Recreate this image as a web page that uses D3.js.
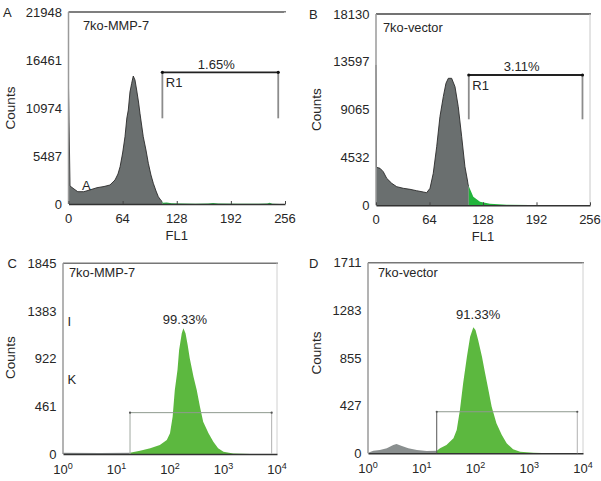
<!DOCTYPE html>
<html>
<head>
<meta charset="utf-8">
<script src="https://d3js.org/d3.v7.min.js"></script>
<style>
  body { margin: 0; background: #fff; }
  text { font-family: "Liberation Sans", Arial, sans-serif; fill: #262626; }
</style>
</head>
<body>
<div id="graph"></div>
<script>

// ---- data ----
// panel A : 7ko-MMP-7, linear FL1 channels
var aFL1   = [0, 1.8, 6.5, 11, 18, 25, 33.7, 42, 49, 55, 58.5, 61, 64, 66.8, 69, 70.7, 72.7, 74.7, 76.6, 78.6, 80.6, 82.8, 84.5, 88.4, 91.6, 94.4, 97.5, 100.3, 103.5, 106.2, 109.4, 112, 116, 122, 135, 150, 165, 171, 177, 200, 225, 235, 238, 241, 250, 256];
var aCount = [13260, 2060, 1715, 1406, 1406, 1600, 1863, 2000, 2172, 2743, 3429, 4263, 5829, 7692, 9830, 10744, 12800, 13796, 14630, 14173, 13030, 11659, 10367, 7692, 6172, 4652, 3315, 2366, 1486, 834, 400, 150, 170, 80, 50, 40, 60, 120, 50, 40, 30, 60, 150, 40, 10, 0];
var aTicksY = [0, 5487, 10974, 16461, 21948];
var aGate = [111, 248], aGateY = [15053, 9795];

// panel B : 7ko-vector
var bFL1   = [0, 0.5, 4.8, 8.7, 12.8, 18.8, 24.8, 32.7, 40.7, 48.5, 56.6, 60.6, 64.6, 68.5, 72.6, 76.5, 80.5, 83.7, 86.5, 90.5, 94.5, 98.4, 102.5, 106.4, 110.4, 116.4, 124.4, 136.3, 156.3, 184, 220, 256];
var bCount = [13300, 3601, 3506, 3184, 2559, 2085, 1763, 1611, 1516, 1384, 1260, 1194, 1611, 3033, 5553, 8397, 10292, 11562, 12036, 12036, 11240, 9344, 6501, 3658, 1924, 815, 341, 152, 57, 20, 0, 0];
var bTicksY = [0, 4532, 9065, 13597, 18130];
var bGate = [111, 247], bGateY = [12349, 8150];

// panel C : 7ko-MMP-7, log FL1
var cFL1   = [1.0, 4.9, 17.8, 27.5, 42.7, 64.6, 87.1, 100, 112, 123, 138, 148, 166, 178, 195, 214, 234, 275, 316, 363, 417, 525, 646, 794, 1000, 1514, 3162, 10000];
var cCount = [12, 10, 12, 32, 55, 87, 135, 200, 361, 619, 813, 1006, 1168, 1216, 1168, 1055, 926, 748, 619, 458, 313, 200, 119, 55, 22, 5, 0, 0];
var cTicksY = [0, 461, 922, 1383, 1845];
var cGate = [17.9, 7950], cGateY = 400;

// panel D : 7ko-vector, log FL1
var dFL1   = [1.0, 1.26, 1.66, 2.24, 2.95, 3.39, 4.27, 5.62, 8.13, 12.3, 19.1, 21.9, 28.8, 38.9, 44.7, 51.3, 58.9, 69.2, 79.4, 91.2, 100, 112, 132, 151, 174, 200, 245, 309, 380, 501, 676, 1202, 2455, 10000];
var dCount = [5, 23, 30, 45, 75, 83, 66, 45, 30, 21, 23, 45, 75, 135, 209, 389, 628, 867, 1047, 1131, 1107, 1017, 867, 718, 568, 418, 269, 164, 90, 36, 14, 4, 0, 0];
var dTicksY = [0, 427, 855, 1283, 1711];
var dGate = [19, 7830], dGateY = 373;

var linTicksX = [0, 64, 128, 192, 256];
var logTicksX = [1, 10, 100, 1000, 10000];

var svg = d3.select("#graph").append("svg")
    .attr("width", 601)
    .attr("height", 481);

function toPoints(xs, ys) {
  return xs.map(function(v, i) { return {x: v, y: ys[i]}; });
}

function drawPanel(p) {
  var x = p.log ? d3.scaleLog() : d3.scaleLinear();
  x.domain(p.log ? [1, 10000] : [0, 256]).range([p.left, p.right]);
  var y = d3.scaleLinear().domain([0, p.ticksY[4]]).range([p.bottom, p.top]);

  var g = svg.append("g");
  var pts = toPoints(p.xs, p.ys);

  // split the histogram at the gate start: gray outside, green inside
  var gx = x(p.gate[0]);
  var clipL = "clipL" + p.id, clipR = "clipR" + p.id;
  var defs = g.append("defs");
  defs.append("clipPath").attr("id", clipL).append("rect")
    .attr("x", p.left - 2).attr("y", p.top).attr("width", gx - p.left + 2).attr("height", p.bottom - p.top + 1);
  defs.append("clipPath").attr("id", clipR).append("rect")
    .attr("x", gx).attr("y", p.top).attr("width", p.right - gx + 2).attr("height", p.bottom - p.top + 1);

  var area = d3.area()
    .x(function(d) { return x(d.x); })
    .y0(p.bottom)
    .y1(function(d) { return y(d.y); });
  var line = d3.line()
    .x(function(d) { return x(d.x); })
    .y(function(d) { return y(d.y); });

  g.append("path").datum(pts).attr("d", area)
    .attr("fill", p.gray).attr("clip-path", "url(#" + clipL + ")");
  if (p.outline) {
    g.append("path").datum(pts).attr("d", line)
      .attr("fill", "none").attr("stroke", "#2a2a2a").attr("stroke-width", 0.9)
      .attr("clip-path", "url(#" + clipL + ")");
  }
  g.append("path").datum(pts).attr("d", area)
    .attr("fill", p.green).attr("clip-path", "url(#" + clipR + ")");

  // frame
  g.append("line").attr("x1", p.left).attr("x2", p.right + 1).attr("y1", p.top).attr("y2", p.top)
    .attr("stroke", p.topColor).attr("stroke-width", 1.5);
  g.append("line").attr("x1", p.right).attr("x2", p.right).attr("y1", p.top).attr("y2", p.bottom)
    .attr("stroke", p.rightColor).attr("stroke-width", 1);
  g.append("line").attr("x1", p.left).attr("x2", p.left).attr("y1", p.top).attr("y2", p.bottom)
    .attr("stroke", "#9a9a9a").attr("stroke-width", 1.5);

  // x axis
  var xa = d3.axisBottom(x).tickValues(p.log ? logTicksX : linTicksX)
    .tickSizeInner(p.log ? 0 : -3).tickSizeOuter(0).tickFormat("");
  var xg = g.append("g").attr("transform", "translate(0," + p.bottom + ")").call(xa);
  xg.select(".domain").attr("stroke", "#333").attr("stroke-width", 1.5);
  xg.selectAll(".tick line").attr("stroke", "#444");

  var lab = g.selectAll(".xl").data(p.log ? logTicksX : linTicksX).enter().append("text")
    .attr("x", function(d) { return x(d); })
    .attr("y", p.bottom + (p.log ? 20 : 18.5))
    .attr("text-anchor", "middle")
    .style("font-size", "13px");
  if (p.log) {
    lab.append("tspan").text("10");
    lab.append("tspan").attr("dy", -5.5).style("font-size", "9px")
      .text(function(d) { return Math.round(Math.log10(d)); });
  } else {
    lab.text(function(d) { return d; });
  }

  // y labels
  g.selectAll(".yl").data(p.ticksY).enter().append("text")
    .attr("x", p.left - 6.5)
    .attr("y", function(d) { return y(d) + 4.5; })
    .attr("text-anchor", "end")
    .style("font-size", "13px")
    .text(function(d) { return d; });

  g.append("text")
    .attr("transform", "translate(" + (p.countsX) + "," + ((p.top + p.bottom) / 2 + p.countsDy) + ") rotate(-90)")
    .attr("text-anchor", "middle")
    .style("font-size", "13.5px")
    .text("Counts");

  if (!p.log) {
    g.append("text").attr("x", (p.left + p.right) / 2).attr("y", p.bottom + 36)
      .attr("text-anchor", "middle").style("font-size", "13px").text("FL1");
  }

  // panel letter and sample name
  g.append("text").attr("x", p.letterX).attr("y", p.top + 5).style("font-size", "13px").text(p.letter);
  g.append("text").attr("x", p.left + p.nameDx).attr("y", p.top + p.nameDy)
    .style("font-size", "12.8px").text(p.name);

  // gate marker
  var x0 = x(p.gate[0]), x1 = x(p.gate[1]);
  if (!p.log) {
    var gy = y(p.gateY[0]), gyl = y(p.gateY[1]);
    [x0, x1].forEach(function(v) {
      g.append("line").attr("x1", v).attr("x2", v).attr("y1", gy).attr("y2", gyl)
        .attr("stroke", "#8c8c8c").attr("stroke-width", 1.8);
    });
    g.append("line").attr("x1", x0).attr("x2", x1).attr("y1", gy).attr("y2", gy)
      .attr("stroke", "#222").attr("stroke-width", 1.8);
    [x0, x1].forEach(function(v) {
      g.append("circle").attr("cx", v).attr("cy", gy).attr("r", 1.6).attr("fill", "#111");
    });
    g.append("text").attr("x", x0 + 3.5).attr("y", gy + 15).style("font-size", "13px").text("R1");
    g.append("text").attr("x", (x0 + x1) / 2 - 4).attr("y", gy - 3.5)
      .attr("text-anchor", "middle").style("font-size", "13px").text(p.pct);
  } else {
    var cy = y(p.gateY);
    g.append("line").attr("x1", x0).attr("x2", x0).attr("y1", cy).attr("y2", p.bottom)
      .attr("stroke", p.gateLeft).attr("stroke-width", 1);
    g.append("line").attr("x1", x1).attr("x2", x1).attr("y1", cy).attr("y2", p.bottom)
      .attr("stroke", "#b0b0b0").attr("stroke-width", 1);
    g.append("line").attr("x1", x0).attr("x2", x1).attr("y1", cy).attr("y2", cy)
      .attr("stroke", "#8f9a8f").attr("stroke-width", 1);
    [x0, x1].forEach(function(v) {
      g.append("circle").attr("cx", v).attr("cy", cy).attr("r", 1.1).attr("fill", "#555");
    });
    g.append("text").attr("x", x(p.pctAt[0])).attr("y", y(p.pctAt[1]))
      .attr("text-anchor", "middle").style("font-size", "13px").text(p.pct);
  }
  return {x: x, y: y, g: g};
}

drawPanel({id: "A", left: 68.5, right: 285, top: 12, bottom: 204, log: false,
  xs: aFL1, ys: aCount, ticksY: aTicksY, gate: aGate, gateY: aGateY, pct: "1.65%",
  gray: "#6a6f6f", green: "#2fb24a", outline: true, topColor: "#555", rightColor: "#ffffff",
  letter: "A", letterX: 3, name: "7ko-MMP-7", nameDx: 14.5, nameDy: 17.5, countsX: 14.5, countsDy: 0});

drawPanel({id: "B", left: 376, right: 590, top: 14, bottom: 205.3, log: false,
  xs: bFL1, ys: bCount, ticksY: bTicksY, gate: bGate, gateY: bGateY, pct: "3.11%",
  gray: "#6a6f6f", green: "#22b43c", outline: true, topColor: "#444", rightColor: "#c8c8c8",
  letter: "B", letterX: 309, name: "7ko-vector", nameDx: 7, nameDy: 17.5, countsX: 321, countsDy: 0});

drawPanel({id: "C", left: 63, right: 277, top: 263.3, bottom: 454, log: true,
  xs: cFL1, ys: cCount, ticksY: cTicksY, gate: cGate, gateY: cGateY, pct: "99.33%", pctAt: [190, 1260],
  gray: "#8a8f8f", green: "#5cb83f", outline: false, topColor: "#777", rightColor: "#d0d0d0", gateLeft: "#a0a8a0",
  letter: "C", letterX: 7.5, name: "7ko-MMP-7", nameDx: 6, nameDy: 14, countsX: 14.5, countsDy: -1});

drawPanel({id: "D", left: 368, right: 583, top: 262.7, bottom: 453.3, log: true,
  xs: dFL1, ys: dCount, ticksY: dTicksY, gate: dGate, gateY: dGateY, pct: "91.33%", pctAt: [112, 1210],
  gray: "#8a8f8f", green: "#5cb83f", outline: false, topColor: "#777", rightColor: "#d0d0d0", gateLeft: "#555",
  letter: "D", letterX: 309, name: "7ko-vector", nameDx: 10, nameDy: 14, countsX: 321, countsDy: -5});

// stray glyphs in the original panels
svg.append("text").attr("x", 82).attr("y", 189.5).style("font-size", "13px").text("A");
svg.append("text").attr("x", 67.5).attr("y", 326).style("font-size", "13px").text("I");
svg.append("text").attr("x", 67.5).attr("y", 384).style("font-size", "13px").text("K");

</script>
</body>
</html>
